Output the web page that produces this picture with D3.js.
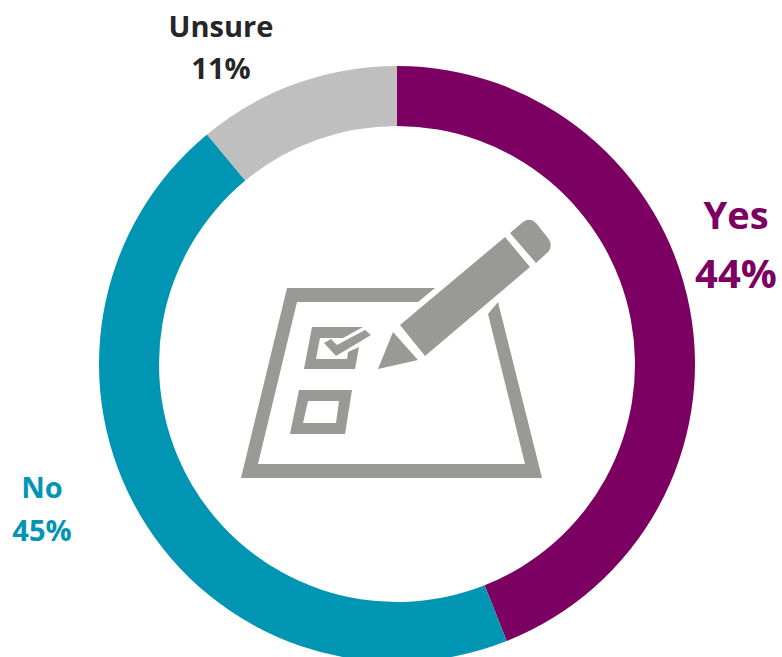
<!DOCTYPE html>
<html><head><meta charset="utf-8">
<script src="https://cdn.jsdelivr.net/npm/d3@7"></script>
<style>html,body{margin:0;padding:0;background:#fff}svg{display:block}</style></head>
<body><svg width="782" height="657"></svg>
<script>
const categories=["Yes","No","Unsure"];
const values=[44,45,11];
const percentLabels=["44%","45%","11%"];
const colors=["#7b0061","#0095b3","#bfbfbf"];
const labelColors=["#7b0061","#0095b3","#262626"];
const svg=d3.select("svg");
const g=svg.append("g").attr("transform","translate(397,364)");
const pie=d3.pie().sort(null)(values);
const arc=d3.arc().innerRadius(238).outerRadius(298);
g.selectAll("path").data(pie).join("path").attr("d",arc).attr("fill",(d,i)=>colors[i]);
const font="'Open Sans', sans-serif";
const labelPos=[{x:736,y1:229,y2:288,s1:38,s2:40},{x:42,y1:498,y2:541,s1:29,s2:29},{x:221,y1:37,y2:79,s1:29,s2:29}];
categories.forEach((c,i)=>{
  const p=labelPos[i];
  [[c,p.y1,p.s1],[percentLabels[i],p.y2,p.s2]].forEach(([t,y,s])=>{
    svg.append("text").attr("x",p.x).attr("y",y)
      .attr("text-anchor","middle").attr("font-family",font).attr("font-weight",700)
      .attr("font-size",s).attr("fill",labelColors[i]).text(t);
  });
});
const ic=svg.append("g").attr("fill","#999a95");
ic.append("path").attr("d","M287 288L435 288L418 302L297 302L258 464L525 464L488 314L498 302L542 478L241 478Z");
ic.append("path").attr("d","M312 327L363 327L343 338L320 338L316 359L347 359L348 352L359 347L355 369L304 369Z");
ic.append("path").attr("d","M324 343L331 339L337 345L365 330L371 335L336 356Z");
ic.append("path").attr("fill-rule","evenodd").attr("d","M299 390L352 390L345 434L290 434ZM308 401L303 423L336 423L339 401Z");
ic.append("path").attr("d","M400 325L505 237L530 267L425 356Z");
ic.append("path").attr("d","M393 332L418 360L378 369Z");
ic.append("path").attr("d","M510 233L523 222Q530 217 536 223L548 238Q554 246 547 253L536 263Z");
</script></body></html>
